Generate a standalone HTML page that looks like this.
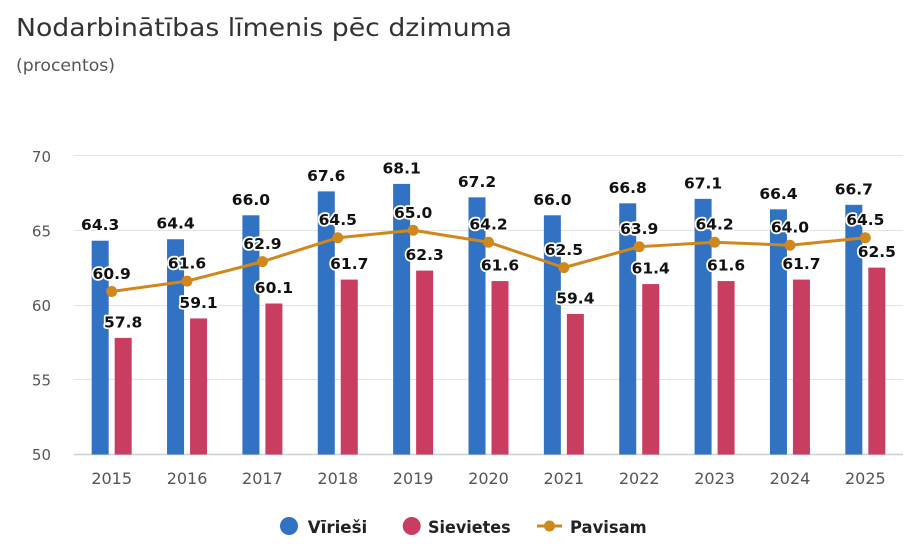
<!DOCTYPE html>
<html><head><meta charset="utf-8"><style>
html,body{margin:0;padding:0;background:#fff;}
svg{display:block;font-family:"DejaVu Sans","Liberation Sans",sans-serif;}
.lb{font-size:15.5px;font-weight:bold;fill:#111;stroke:#fff;stroke-width:3.5px;stroke-linejoin:round;paint-order:stroke;text-anchor:middle;}
.yl{font-size:15px;fill:#555;text-anchor:end;}
.xl{font-size:16px;fill:#555;text-anchor:middle;}
.lg{font-size:17px;font-weight:bold;fill:#222;}
</style></head><body>
<svg width="918" height="552" viewBox="0 0 918 552" xmlns="http://www.w3.org/2000/svg">
<rect width="918" height="552" fill="#fff"/>
<text x="16" y="36" font-size="25" fill="#333" textLength="496" lengthAdjust="spacingAndGlyphs">Nodarbinātības līmenis pēc dzimuma</text>
<text x="16" y="71" font-size="17" fill="#555" textLength="99" lengthAdjust="spacingAndGlyphs">(procentos)</text>

<g stroke="#e3e3e3" stroke-width="1">
<line x1="74" y1="155.5" x2="903" y2="155.5"/>
<line x1="74" y1="230.5" x2="903" y2="230.5"/>
<line x1="74" y1="305.5" x2="903" y2="305.5"/>
<line x1="74" y1="379.5" x2="903" y2="379.5"/>
</g>
<line x1="74" y1="454.5" x2="903" y2="454.5" stroke="#ccd0d6" stroke-width="1.5"/>

<g class="yl">
<text x="51" y="162">70</text>
<text x="51" y="236.5">65</text>
<text x="51" y="311">60</text>
<text x="51" y="385.5">55</text>
<text x="51" y="460">50</text>
</g>

<g fill="#3172c3">
<rect x="91.68" y="240.71" width="17" height="213.79"/>
<rect x="167.05" y="239.22" width="17" height="215.28"/>
<rect x="242.41" y="215.3" width="17" height="239.2"/>
<rect x="317.77" y="191.38" width="17" height="263.12"/>
<rect x="393.14" y="183.9" width="17" height="270.6"/>
<rect x="468.5" y="197.36" width="17" height="257.14"/>
<rect x="543.86" y="215.3" width="17" height="239.2"/>
<rect x="619.23" y="203.34" width="17" height="251.16"/>
<rect x="694.59" y="198.85" width="17" height="255.65"/>
<rect x="769.95" y="209.32" width="17" height="245.18"/>
<rect x="845.32" y="204.83" width="17" height="249.67"/>
</g>
<g fill="#c93e60">
<rect x="114.68" y="337.89" width="17" height="116.61"/>
<rect x="190.05" y="318.45" width="17" height="136.05"/>
<rect x="265.41" y="303.5" width="17" height="151"/>
<rect x="340.77" y="279.58" width="17" height="174.92"/>
<rect x="416.14" y="270.61" width="17" height="183.89"/>
<rect x="491.5" y="281.08" width="17" height="173.42"/>
<rect x="566.86" y="313.97" width="17" height="140.53"/>
<rect x="642.23" y="284.07" width="17" height="170.43"/>
<rect x="717.59" y="281.08" width="17" height="173.42"/>
<rect x="792.95" y="279.58" width="17" height="174.92"/>
<rect x="868.32" y="267.62" width="17" height="186.88"/>
</g>

<polyline fill="none" stroke="#d0871c" stroke-width="3" stroke-linejoin="round" points="111.68,291.54 187.05,281.08 262.41,261.64 337.77,237.72 413.14,230.25 488.5,242.21 563.86,267.62 639.23,246.69 714.59,242.21 789.95,245.2 865.32,237.72"/>
<g fill="#d0871c">
<circle cx="111.68" cy="291.54" r="5.5"/>
<circle cx="187.05" cy="281.08" r="5.5"/>
<circle cx="262.41" cy="261.64" r="5.5"/>
<circle cx="337.77" cy="237.72" r="5.5"/>
<circle cx="413.14" cy="230.25" r="5.5"/>
<circle cx="488.5" cy="242.21" r="5.5"/>
<circle cx="563.86" cy="267.62" r="5.5"/>
<circle cx="639.23" cy="246.69" r="5.5"/>
<circle cx="714.59" cy="242.21" r="5.5"/>
<circle cx="789.95" cy="245.2" r="5.5"/>
<circle cx="865.32" cy="237.72" r="5.5"/>
</g>

<g class="lb">
<text x="100.18" y="230.2">64.3</text>
<text x="175.55" y="228.7">64.4</text>
<text x="250.91" y="204.8">66.0</text>
<text x="326.27" y="180.9">67.6</text>
<text x="401.64" y="173.4">68.1</text>
<text x="477" y="186.9">67.2</text>
<text x="552.36" y="204.8">66.0</text>
<text x="627.73" y="192.8">66.8</text>
<text x="703.09" y="188.4">67.1</text>
<text x="778.45" y="198.8">66.4</text>
<text x="853.82" y="194.3">66.7</text>

<text x="123.18" y="327.4">57.8</text>
<text x="198.55" y="308">59.1</text>
<text x="273.91" y="293">60.1</text>
<text x="349.27" y="269.1">61.7</text>
<text x="424.64" y="260.1">62.3</text>
<text x="500" y="270.6">61.6</text>
<text x="575.36" y="303.5">59.4</text>
<text x="650.73" y="273.6">61.4</text>
<text x="726.09" y="270.6">61.6</text>
<text x="801.45" y="269.1">61.7</text>
<text x="876.82" y="257.1">62.5</text>

<text x="111.68" y="279">60.9</text>
<text x="187.05" y="268.6">61.6</text>
<text x="262.41" y="249.1">62.9</text>
<text x="337.77" y="225.2">64.5</text>
<text x="413.14" y="217.8">65.0</text>
<text x="488.5" y="229.7">64.2</text>
<text x="563.86" y="255.1">62.5</text>
<text x="639.23" y="234.2">63.9</text>
<text x="714.59" y="229.7">64.2</text>
<text x="789.95" y="232.7">64.0</text>
<text x="865.32" y="225.2">64.5</text>
</g>

<g class="xl">
<text x="111.68" y="484">2015</text>
<text x="187.05" y="484">2016</text>
<text x="262.41" y="484">2017</text>
<text x="337.77" y="484">2018</text>
<text x="413.14" y="484">2019</text>
<text x="488.5" y="484">2020</text>
<text x="563.86" y="484">2021</text>
<text x="639.23" y="484">2022</text>
<text x="714.59" y="484">2023</text>
<text x="789.95" y="484">2024</text>
<text x="865.32" y="484">2025</text>
</g>

<circle cx="289" cy="526" r="9" fill="#3172c3"/>
<text class="lg" x="307.7" y="533" textLength="59.6" lengthAdjust="spacingAndGlyphs">Vīrieši</text>
<circle cx="411.7" cy="526" r="9" fill="#c93e60"/>
<text class="lg" x="428" y="533" textLength="82.7" lengthAdjust="spacingAndGlyphs">Sievietes</text>
<line x1="537" y1="526" x2="562" y2="526" stroke="#d0871c" stroke-width="3"/>
<circle cx="549.5" cy="526" r="5.5" fill="#d0871c"/>
<text class="lg" x="570" y="533" textLength="76.7" lengthAdjust="spacingAndGlyphs">Pavisam</text>
</svg>
</body></html>
